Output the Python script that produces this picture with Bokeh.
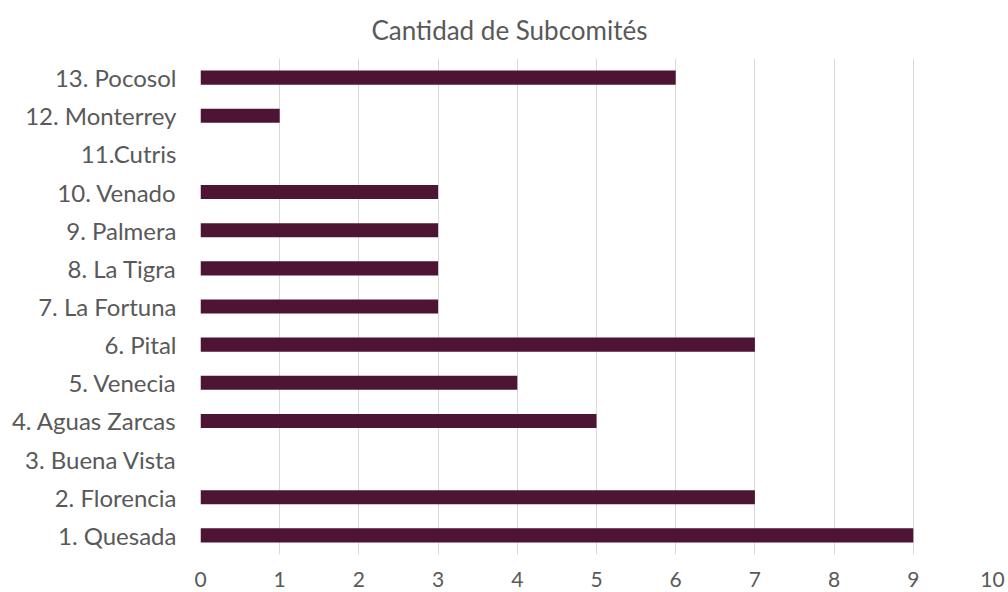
from bokeh.plotting import figure
from bokeh.models import FactorRange, Range1d, ColumnDataSource, FixedTicker, Title
from bokeh.embed import file_html
from bokeh.resources import INLINE

categories = ["1. Quesada", "2. Florencia", "3. Buena Vista", "4. Aguas Zarcas", "5. Venecia",
              "6. Pital", "7. La Fortuna", "8. La Tigra", "9. Palmera", "10. Venado",
              "11.Cutris", "12. Monterrey", "13. Pocosol"]
values = [9, 7, 0, 5, 4, 7, 3, 3, 3, 3, 0, 1, 6]
x_ticks = [0, 1, 2, 3, 4, 5, 6, 7, 8, 9, 10]

FONT = "Lato"
GREY = "#595959"

src = ColumnDataSource(dict(cat=categories, val=values))

p = figure(width=1008, height=592, output_backend="svg", toolbar_location=None,
           y_range=FactorRange(factors=categories, range_padding=0),
           x_range=Range1d(0, 10),
           min_border_left=200, min_border_right=16, min_border_top=58, min_border_bottom=38)

p.hbar(y="cat", right="val", left=0, height=0.37, source=src,
       fill_color="#4E1433", line_color=None)

p.outline_line_color = None
p.xaxis.ticker = FixedTicker(ticks=x_ticks)
p.xaxis.axis_line_color = None
p.yaxis.axis_line_color = None
p.xaxis.major_tick_line_color = None
p.yaxis.major_tick_line_color = None
p.xaxis.minor_tick_line_color = None
p.xaxis.major_label_text_font = FONT
p.yaxis.major_label_text_font = FONT
p.xaxis.major_label_text_font_size = "21px"
p.yaxis.major_label_text_font_size = "24px"
p.xaxis.major_label_text_color = GREY
p.yaxis.major_label_text_color = GREY
p.xaxis.major_label_standoff = 11
p.yaxis.major_label_standoff = 18
p.ygrid.grid_line_color = None
p.xgrid.grid_line_color = "#D9D9D9"
p.xgrid.grid_line_width = 1

t = Title(text="Cantidad de Subcomités", align="left", text_font=FONT,
          text_font_size="26px", text_color=GREY, text_font_style="normal",
          offset=171, standoff=22, vertical_align="top")
p.add_layout(t, "above")

open("out.html", "w").write(file_html(p, INLINE))
